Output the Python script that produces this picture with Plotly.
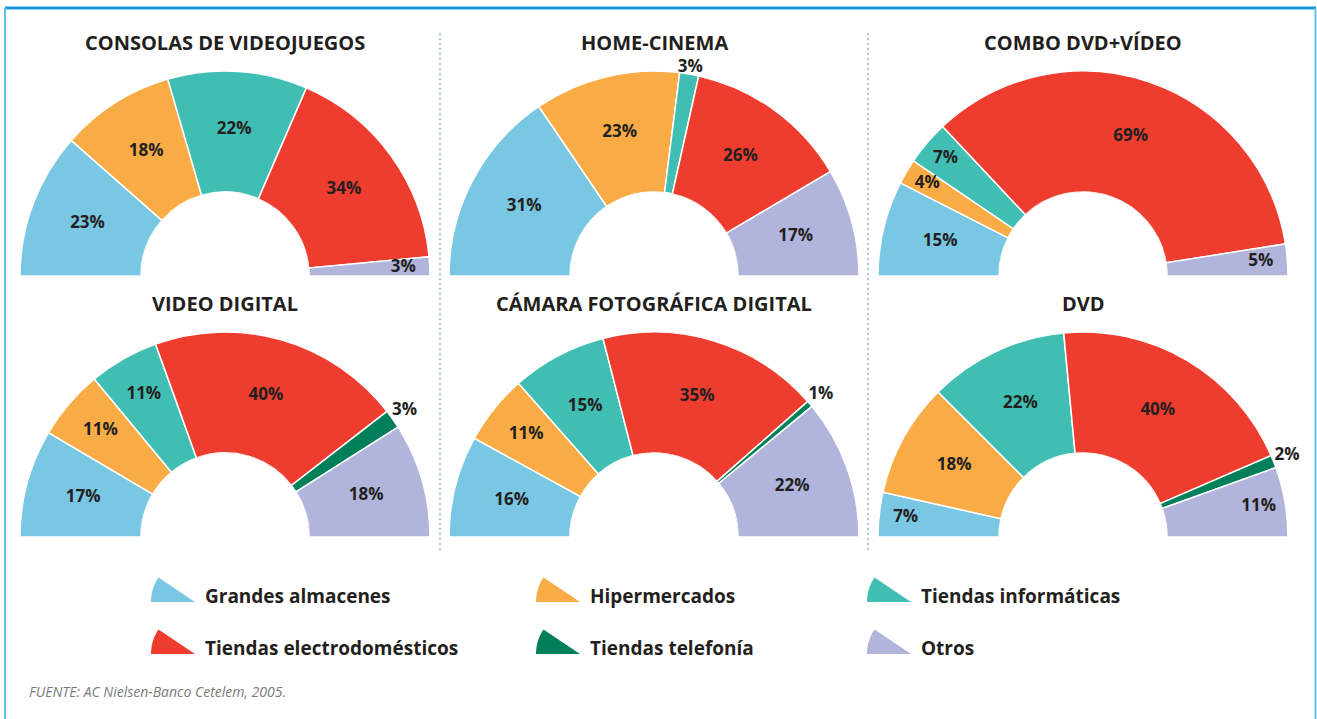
import math
import plotly.graph_objects as go

W, H = 1317, 719

categories = ["Grandes almacenes", "Hipermercados", "Tiendas informáticas",
              "Tiendas electrodomésticos", "Tiendas telefonía", "Otros"]
colors = ["#7AC7E4", "#F9AC45", "#41BEB4", "#EE3D2F", "#00805A", "#B1B4DB"]

titles = ["CONSOLAS DE VIDEOJUEGOS", "HOME-CINEMA", "COMBO DVD+VÍDEO",
          "VIDEO DIGITAL", "CÁMARA FOTOGRÁFICA DIGITAL", "DVD"]

consolas = [23, 18, 22, 34, None, 3]
home_cinema = [31, 23, 3, 26, None, 17]
combo_dvd_video = [15, 4, 7, 69, None, 5]
video_digital = [17, 11, 11, 40, 3, 18]
camara_digital = [16, 11, 15, 35, 1, 22]
dvd = [7, 18, 22, 40, 2, 11]

series = [consolas, home_cinema, combo_dvd_video, video_digital, camara_digital, dvd]

source = "FUENTE: AC Nielsen-Banco Cetelem, 2005."

# ---- layout constants (pixels) ----
R = 205                 # visible outer radius of the wedges
HOLE_PX = 0.41 * R      # inner radius
RMAX = 1.15             # radial range leaves room for outside labels
R_DOM = HOLE_PX + (R - HOLE_PX) * RMAX
HOLE = HOLE_PX / R_DOM
centers_x = [225, 654, 1083]
baselines = [276, 537]
TXT = "#231f20"
FONT = "Open Sans"

def px(x):
    return x / W

def py(y):
    return 1 - y / H

fig = go.Figure()
layout_polars = {}
annotations = []
shapes = []

for i, (title, vals) in enumerate(zip(titles, series)):
    row, col = divmod(i, 3)
    cx, by = centers_x[col], baselines[row]
    key = "polar" if i == 0 else f"polar{i+1}"
    layout_polars[key] = dict(
        domain=dict(x=[max(0, px(cx - R_DOM)), min(1, px(cx + R_DOM))],
                    y=[py(by), py(by - R_DOM)]),
        sector=[0, 180],
        hole=HOLE,
        bgcolor="rgba(0,0,0,0)",
        radialaxis=dict(visible=False, range=[0, RMAX]),
        angularaxis=dict(visible=False, direction="clockwise", rotation=180,
                         showgrid=False, showline=False, ticks=""),
    )
    thetas, widths, cols, names = [], [], [], []
    lab_r, lab_t, lab_s = [], [], []
    cum = 0
    for cat, c, v in zip(categories, colors, vals):
        if v is None:
            continue
        mid = (cum + v / 2) * 1.8
        thetas.append(mid)
        widths.append(v * 1.8)
        cols.append(c)
        names.append(cat)
        edge = min(mid, 180 - mid)
        if v <= 3 and edge > 12:
            r = 1.05 if edge > 60 else 1.12
        elif edge < 12:
            r = 0.78
        elif v < 8:
            r = 0.8
        elif v < 12:
            r = 0.66
        else:
            r = 0.52
        lab_r.append(r)
        lab_t.append(mid)
        lab_s.append(f"{v}%")
        cum += v
    fig.add_trace(go.Barpolar(
        r=[1] * len(thetas), theta=thetas, width=widths, base=0,
        marker=dict(color=cols, line=dict(color="white", width=1.5)),
        hovertext=names, subplot=key, showlegend=False,
    ))
    fig.add_trace(go.Scatterpolar(
        r=lab_r, theta=lab_t, text=lab_s, mode="text",
        textfont=dict(family=FONT, size=17, color=TXT, weight=700),
        cliponaxis=False, subplot=key, showlegend=False, hoverinfo="skip",
    ))
    annotations.append(dict(
        x=px(cx), y=py(by - R - 28), xref="paper", yref="paper",
        text=title, showarrow=False, xanchor="center", yanchor="middle",
        font=dict(family=FONT, size=20, color=TXT, weight=700),
    ))

# ---- legend drawn as wedge icons + labels ----
leg_icon_x = [151, 536, 867]
leg_base_y = [602, 654]
ICON_R = 44
for k, (cat, c) in enumerate(zip(categories, colors)):
    row, col = divmod(k, 3)
    ax, ay = leg_icon_x[col] + ICON_R, leg_base_y[row]
    pts = [(ax, ay)]
    for j in range(0, 35, 2):
        a = math.radians(j)
        pts.append((ax - ICON_R * math.cos(a), ay - ICON_R * math.sin(a)))
    a = math.radians(34)
    pts.append((ax - ICON_R * math.cos(a), ay - ICON_R * math.sin(a)))
    path = "M " + " L ".join(f"{px(x):.5f},{py(y):.5f}" for x, y in pts) + " Z"
    shapes.append(dict(type="path", path=path, xref="paper", yref="paper",
                       fillcolor=c, line=dict(width=0)))
    annotations.append(dict(
        x=px(leg_icon_x[col] + 52), y=py(ay - 6), xref="paper", yref="paper",
        text=cat, showarrow=False, xanchor="left", yanchor="middle",
        font=dict(family=FONT, size=19, color=TXT, weight=700),
    ))

annotations.append(dict(
    x=px(27), y=py(691), xref="paper", yref="paper", text=source,
    showarrow=False, xanchor="left", yanchor="middle",
    font=dict(family=FONT, size=14, color="#7A7A7A", style="italic"),
))

# ---- separators and frame ----
for sx in [440, 868]:
    shapes.append(dict(type="line", xref="paper", yref="paper",
                       x0=px(sx), x1=px(sx), y0=py(33), y1=py(550),
                       line=dict(color="#A9C8DC", width=2, dash="2px,3px")))
shapes.append(dict(type="line", xref="paper", yref="paper",
                   x0=px(5), x1=px(1316), y0=py(8), y1=py(8),
                   line=dict(color="#1B95D3", width=3)))
for fx in [5, 1315.5]:
    shapes.append(dict(type="line", xref="paper", yref="paper",
                       x0=px(fx), x1=px(fx), y0=py(8), y1=py(719),
                       line=dict(color="#5CC1E9", width=2)))

fig.update_layout(
    width=W, height=H,
    margin=dict(l=0, r=0, t=0, b=0),
    paper_bgcolor="white", plot_bgcolor="white",
    showlegend=False,
    annotations=annotations, shapes=shapes,
    **layout_polars,
)

fig.write_html("out.html", config={"displayModeBar": False},
               post_script="document.body.style.margin='0';document.body.style.overflow='hidden';")
